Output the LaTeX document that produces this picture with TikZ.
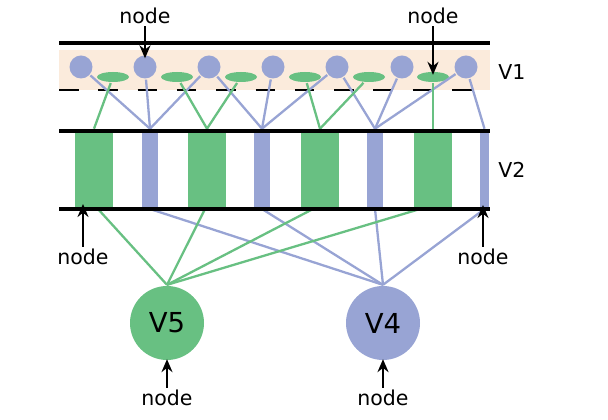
\documentclass[tikz,border=0pt]{standalone}
\usepackage{fontspec}
\setmainfont{DejaVu Sans}
\usetikzlibrary{shapes.geometric,arrows.meta,positioning}
\definecolor{cgreen}{RGB}{104,192,130}
\definecolor{cblue}{RGB}{152,164,212}
\definecolor{cpeach}{RGB}{251,235,220}
\tikzset{
  every picture/.style={line width=2.3pt},
  sG/.style={draw=cgreen, line width=2.3pt},
  sB/.style={draw=cblue, line width=2.3pt},
  srule/.style={draw=black, line width=3.2pt},
  sdash/.style={draw=black, line width=2.4pt, dash pattern=on 19.5pt off 19.8pt},
  scell/.style={circle, fill=cblue, minimum size=23pt, inner sep=0pt},
  sleaf/.style={ellipse, fill=cgreen, minimum width=32pt, minimum height=10pt, inner sep=0pt},
  sgbar/.style={rectangle, fill=cgreen, minimum width=38pt, minimum height=78pt, inner sep=0pt, anchor=south},
  sbbar/.style={rectangle, fill=cblue, minimum width=16pt, minimum height=78pt, inner sep=0pt, anchor=south},
  sbig/.style={circle, minimum size=74pt, inner sep=0pt, font=\fontsize{27.5}{30}\selectfont},
  slabel/.style={font=\fontsize{20.5}{24}\selectfont, inner sep=1pt},
  spoint/.style={-{Stealth[length=13pt,width=11pt]}, line width=2.2pt},
}
\begin{document}
\begin{tikzpicture}[x=1pt,y=1pt]
  \useasboundingbox (0,0) rectangle (608,420);
  % layer V1
  \fill[cpeach] (59,330) rectangle (490,370);
  \draw[sdash] (59,330) -- (490,330);
  \foreach \i/\x in {1/81,2/145,3/209,4/273,5/337,6/402,7/466}
    \node[scell] (c\i) at (\x,353) {};
  \foreach \i/\x in {1/113,2/177,3/241,4/305,5/369,6/433}
    \node[sleaf] (e\i) at (\x,343) {};
  % layer V2
  \foreach \i/\x in {1/94,2/207,3/320,4/433}
    \node[sgbar] (g\i) at (\x,211) {};
  \foreach \i/\x in {1/150,2/262,3/375}
    \node[sbbar] (b\i) at (\x,211) {};
  \node[sbbar, minimum width=9pt] (b4) at (484.5,211) {};
  % output units
  \node[sbig, fill=cgreen] (V5) at (167,97) {V5};
  \node[sbig, fill=cblue] (V4) at (383,97) {V4};
  % V1 -> V2
  \foreach \c/\b in {1/1,2/1,3/1,3/2,4/2,5/2,5/3,6/3,7/3,7/4}
    \draw[sB] (c\c) -- (b\b.north);
  \foreach \e/\g in {1/1,2/2,3/2,4/3,5/3,6/4}
    \draw[sG] (e\e) -- (g\g.north);
  % V2 -> V4, V5
  \foreach \b in {1,...,4}
    \draw[sB] (b\b.south) -- (V4.north);
  \foreach \g/\dx in {1/4,2/-2,3/-7,4/-13}
    \draw[sG] ([xshift=\dx pt]g\g.south) -- (V5.north);
  % boundaries
  \draw[srule] (59,377) -- (490,377);
  \draw[srule] (59,289) -- (490,289);
  \draw[srule] (59,211) -- (490,211);
  % labels
  \node[slabel] (tV1) at (512,348) {V1};
  \node[slabel] (tV2) at (512,250) {V2};
  \node[slabel] (n1) at (145,404) {node};
  \node[slabel] (n2) at (433,404) {node};
  \node[slabel] (n3) at (83,163) {node};
  \node[slabel] (n4) at (483,163) {node};
  \node[slabel] (n5) at (167,22) {node};
  \node[slabel] (n6) at (383,22) {node};
  \draw[spoint, shorten >=-4pt] (n1.south) -- (c2.north);
  \draw[spoint, shorten >=-4pt] (n2.south) -- (e6.north);
  \draw[spoint, shorten >=-5pt] (n3.north) -- (n3.north |- g1.south);
  \draw[spoint, shorten >=-4pt] (n4.north) -- (n4.north |- b4.south);
  \draw[spoint, shorten >=-2pt] (n5.north) -- (V5.south);
  \draw[spoint, shorten >=-2pt] (n6.north) -- (V4.south);
\end{tikzpicture}
\end{document}
